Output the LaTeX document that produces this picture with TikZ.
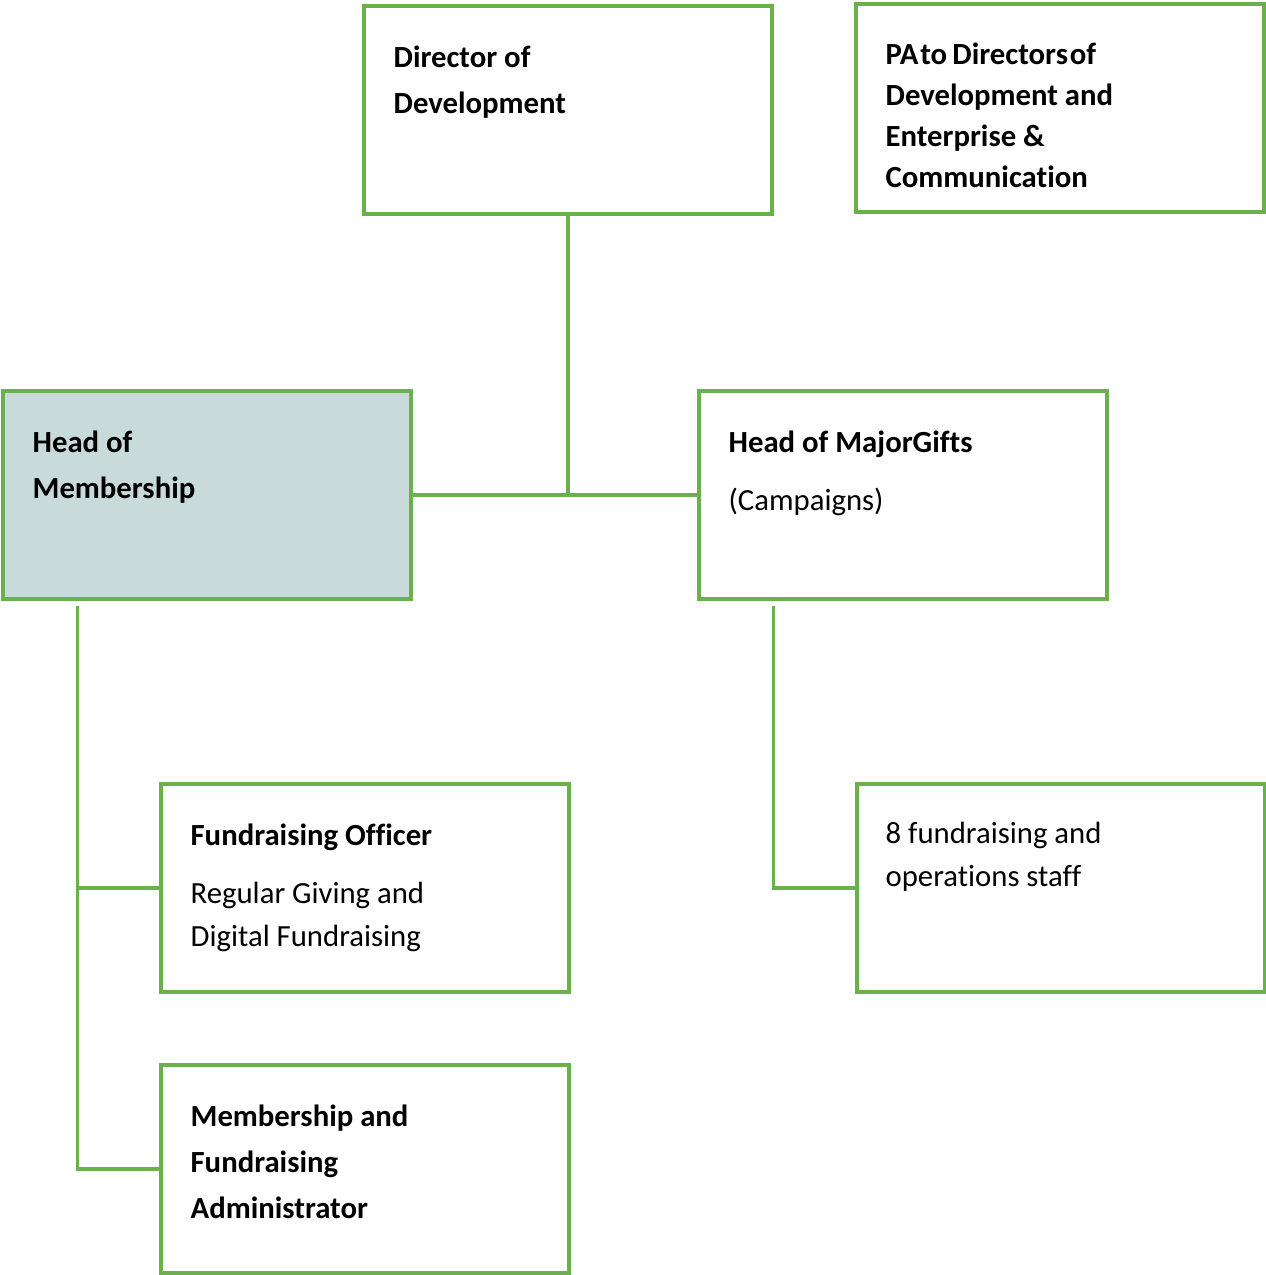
\documentclass[tikz,border=0pt]{standalone}
\usepackage{fontspec}
\setmainfont{Carlito}[Ligatures=NoCommon]
\usetikzlibrary{positioning}
\definecolor{boxgreen}{RGB}{106,176,76}
\definecolor{headfill}{RGB}{200,218,218}
\tikzset{
  unitbox/.style={draw=boxgreen, line width=2pt, minimum width=8.16cm, minimum height=4.16cm, inner sep=0pt},
  boxtext/.style={anchor=base west, align=left, inner sep=0pt, font=\fontsize{17.5}{26}\selectfont\bfseries},
  plaintext/.style={boxtext, font=\fontsize{17.5}{24.4}\selectfont},
  link/.style={draw=boxgreen, line width=2pt}
}
\begin{document}
\begin{tikzpicture}[x=0.02cm, y=-0.02cm]
    \useasboundingbox (0,0) rectangle (1266,1275);
    % boxes
    \node[unitbox] (dir) at (568,110) {};
    \node[unitbox] (pa) at (1060,108) {};
    \node[unitbox, fill=headfill] (hom) at (207,495) {};
    \node[unitbox] (hmg) at (903,495) {};
    \node[unitbox] (fo) at (365,888) {};
    \node[unitbox] (adm) at (365,1169) {};
    \node[unitbox] (ops) at (1061,888) {};
    % texts (base = last line)
    \node[boxtext] (dirtxt) at ([shift={(31,109)}]dir.north west) {Director of\\Development};
    \node[boxtext, font=\fontsize{17.5}{23.2}\selectfont\bfseries] (patxt) at ([shift={(31,185)}]pa.north west)
        {PA\kern1pt to\kern3pt Directors\kern1pt of\\Development and\\Enterprise \&\\Communication};
    \node[boxtext] (homtxt) at ([shift={(31,109)}]hom.north west) {Head of\\Membership};
    \node[boxtext] (hmgtxt) at ([shift={(31,63)}]hmg.north west) {Head of MajorGifts};
    \node[plaintext] (hmgsub) at ([shift={(31,121)}]hmg.north west) {(Campaigns)};
    \node[boxtext] (fotxt) at ([shift={(31,63)}]fo.north west) {Fundraising Officer};
    \node[plaintext] (fosub) at ([shift={(31,164)}]fo.north west) {Regular Giving and\\Digital Fundraising};
    \node[boxtext] (admtxt) at ([shift={(31,155)}]adm.north west) {Membership and\\Fundraising\\Administrator};
    \node[plaintext] (opstxt) at ([shift={(30,104)}]ops.north west) {8 fundraising and\\operations staff};
    % connectors
    \draw[link] (dir.south) -- (dir.south |- hom.east);
    \draw[link] (hom.east) -- (hmg.west);
    \coordinate (homfoot) at ([shift={(76,5)}]hom.south west);
    \draw[link] (homfoot) |- (adm.west);
    \draw[link] (homfoot |- fo.west) -- (fo.west);
    \coordinate (hmgfoot) at ([shift={(76,5)}]hmg.south west);
    \draw[link] (hmgfoot) |- (ops.west);
\end{tikzpicture}
\end{document}
